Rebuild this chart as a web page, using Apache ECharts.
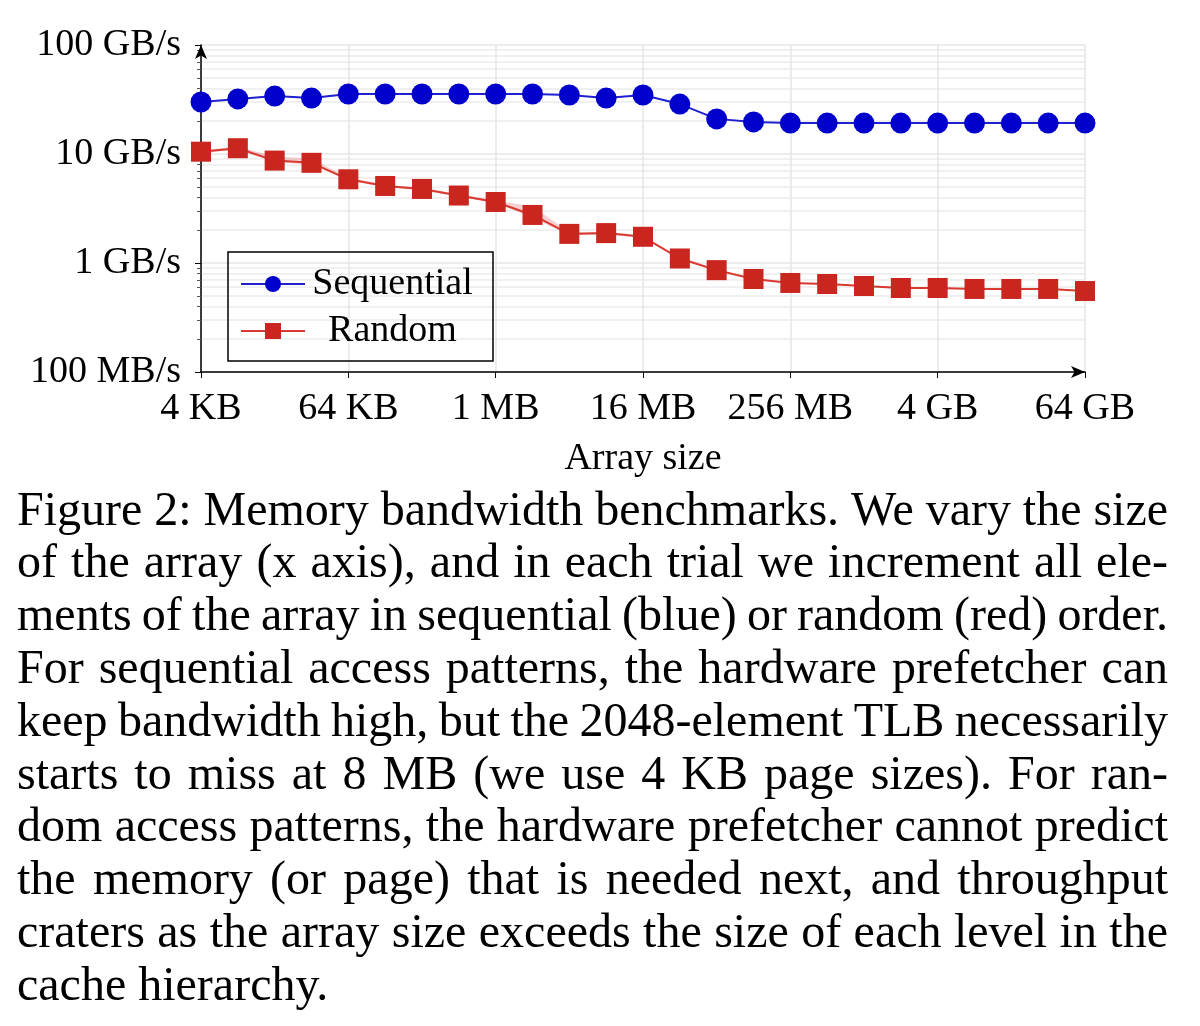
<!DOCTYPE html>
<html>
<head>
<meta charset="utf-8">
<script src="https://cdn.jsdelivr.net/npm/echarts@6/dist/echarts.min.js"></script>
<style>
  html, body { margin: 0; padding: 0; background: #fff; }
  #main { width: 1200px; height: 1026px; }
</style>
</head>
<body>
<div id="main"></div>
<script>
// array sizes, one point per power of two
var sizes = ['4 KB', '8 KB', '16 KB', '32 KB', '64 KB', '128 KB', '256 KB', '512 KB',
  '1 MB', '2 MB', '4 MB', '8 MB', '16 MB', '32 MB', '64 MB', '128 MB', '256 MB', '512 MB',
  '1 GB', '2 GB', '4 GB', '8 GB', '16 GB', '32 GB', '64 GB']

// bandwidth in GB/s
var seqBW = [30, 32, 34, 32.6, 35.5, 35.5, 35.5, 35.5, 35.5, 35.5, 34.8, 32.6, 34.8,
  28.7, 21, 19.7, 19.2, 19.2, 19.2, 19.2, 19.2, 19.2, 19.2, 19.2, 19.2]
var randBW = [10.5, 11.3, 8.7, 8.3, 5.86, 5.09, 4.78, 4.16, 3.63, 2.76, 1.85, 1.88, 1.74,
  1.1, 0.86, 0.713, 0.656, 0.642, 0.615, 0.59, 0.59, 0.578, 0.578, 0.578, 0.553]
// spread of the random runs (shaded band)
var randLow = [10.2, 10.9, 8.4, 8.0, 5.7, 4.95, 4.65, 4.05, 3.55, 2.6, 1.8, 1.83, 1.7,
  1.07, 0.84, 0.70, 0.645, 0.632, 0.605, 0.58, 0.58, 0.57, 0.57, 0.57, 0.545]
var randHigh = [10.8, 11.7, 9.5, 9.1, 6.05, 5.25, 4.9, 4.3, 3.75, 3.3, 1.92, 1.94, 1.79,
  1.13, 0.88, 0.725, 0.667, 0.652, 0.625, 0.60, 0.60, 0.586, 0.586, 0.586, 0.561]

var yTickLabels = ['100 MB/s', '1 GB/s', '10 GB/s', '100 GB/s']

var captionLines = [
  'Figure 2: Memory bandwidth benchmarks. We vary the size',
  'of the array (x axis), and in each trial we increment all ele-',
  'ments of the array in sequential (blue) or random (red) order.',
  'For sequential access patterns, the hardware prefetcher can',
  'keep bandwidth high, but the 2048-element TLB necessarily',
  'starts to miss at 8 MB (we use 4 KB page sizes). For ran-',
  'dom access patterns, the hardware prefetcher cannot predict',
  'the memory (or page) that is needed next, and throughput',
  'craters as the array size exceeds the size of each level in the',
  'cache hierarchy.'
]

var serif = '"Liberation Serif", "DejaVu Serif", serif'
var bandDiff = randHigh.map(function (v, i) { return v - randLow[i] })

// justified caption, laid out word by word
var capFont = 48
var ctx = document.createElement('canvas').getContext('2d')
ctx.font = capFont + 'px ' + serif
var capLeft = 17, capRight = 1168, capTop = 512, capStep = 52.8
var graphics = []
captionLines.forEach(function (line, li) {
  var words = line.split(' ')
  var y = capTop + li * capStep
  var total = 0
  words.forEach(function (w) { total += ctx.measureText(w).width })
  var gap = ctx.measureText(' ').width
  if (li < captionLines.length - 1 && words.length > 1) {
    gap = (capRight - capLeft - total) / (words.length - 1)
  }
  var x = capLeft
  words.forEach(function (w) {
    graphics.push({
      type: 'text', left: x, top: y - capFont * 0.5,
      style: { text: w, fill: '#000', font: capFont + 'px ' + serif }
    })
    x += ctx.measureText(w).width + gap
  })
})

var myChart = echarts.init(document.getElementById('main'))
var option = {
  backgroundColor: '#fff',
  animation: false,
  textStyle: { fontFamily: serif },
  graphic: graphics,
  grid: { left: 201, right: 115, top: 45, bottom: 654, containLabel: false },
  legend: {
    left: 228, top: 252,
    orient: 'vertical',
    padding: [13, 18, 11, 12],
    itemGap: 9,
    itemWidth: 64,
    itemHeight: 20,
    borderColor: '#000',
    borderWidth: 1.5,
    data: ['Sequential', 'Random'],
    formatter: '{c|{name}}',
    textStyle: {
      color: '#000',
      rich: { c: { width: 165, align: 'center', fontSize: 38, fontFamily: serif, lineHeight: 44, color: '#000' } }
    }
  },
  xAxis: {
    type: 'category',
    data: sizes,
    boundaryGap: false,
    axisLine: { lineStyle: { color: '#000', width: 1.5 }, symbol: ['none', 'arrow'], symbolSize: [9, 14] },
    axisTick: { interval: 3, length: 6, lineStyle: { color: '#000' } },
    axisLabel: { interval: 3, color: '#000', fontSize: 38, fontFamily: serif, margin: 18 },
    splitLine: { show: true, interval: 3, lineStyle: { color: '#e6e6e6', width: 1.5 } },
    name: 'Array size',
    nameLocation: 'middle',
    nameGap: 68,
    nameTextStyle: { color: '#000', fontSize: 38, fontFamily: serif }
  },
  yAxis: {
    type: 'log',
    logBase: 10,
    min: 0.1,
    max: 100,
    axisLine: { show: true, lineStyle: { color: '#000', width: 1.5 }, symbol: ['none', 'arrow'], symbolSize: [9, 14] },
    axisTick: { show: true, length: 6, lineStyle: { color: '#000' } },
    minorTick: { show: true, splitNumber: 9, length: 4, lineStyle: { color: '#555' } },
    axisLabel: {
      color: '#000', fontSize: 38, fontFamily: serif, margin: 20,
      formatter: function (v) { return yTickLabels[Math.round(Math.log10(v)) + 1] }
    },
    splitLine: { show: true, lineStyle: { color: '#e6e6e6', width: 1.5 } },
    minorSplitLine: { show: true, lineStyle: { color: '#ececec', width: 1.5 } }
  },
  series: [
    {
      name: 'bandLow', type: 'line', stack: 'band', data: randLow,
      symbol: 'none', lineStyle: { width: 0, opacity: 0 }, silent: true
    },
    {
      name: 'bandHigh', type: 'line', stack: 'band', data: bandDiff,
      symbol: 'none', lineStyle: { width: 0, opacity: 0 },
      areaStyle: { color: 'rgba(225, 90, 90, 0.4)' }, silent: true
    },
    {
      name: 'Sequential', type: 'line', data: seqBW,
      symbol: 'circle', symbolSize: 21,
      itemStyle: { color: '#0000cc' },
      lineStyle: { color: '#2020d0', width: 2 },
      z: 4
    },
    {
      name: 'Random', type: 'line', data: randBW,
      symbol: 'rect', symbolSize: 20,
      itemStyle: { color: '#c8261e' },
      lineStyle: { color: '#d83a32', width: 2 },
      z: 3
    }
  ]
}
myChart.setOption(option)
</script>
</body>
</html>
